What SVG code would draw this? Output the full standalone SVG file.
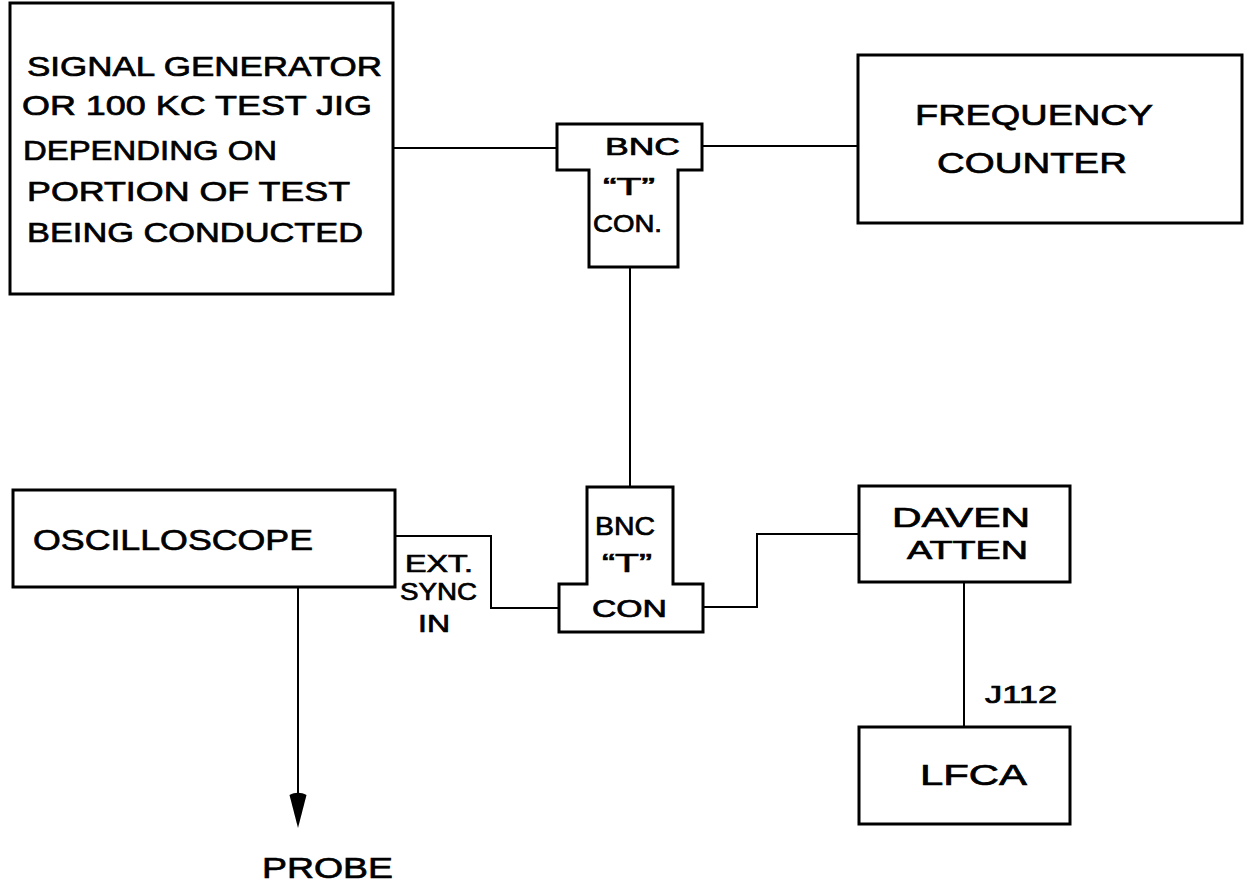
<svg xmlns="http://www.w3.org/2000/svg" width="1249" height="883" viewBox="0 0 1249 883">
<style>
.box{fill:none;stroke:#000;stroke-width:3;stroke-linejoin:miter}
.wire{fill:none;stroke:#000;stroke-width:2}
text{font-family:"Liberation Sans",Arial,sans-serif;fill:#000;stroke:#000;stroke-width:0.7;lengthAdjust:spacingAndGlyphs}
.t28{font-size:28px}
.t30{font-size:30px}
.t24{font-size:24px}
.t26{font-size:26px}
</style>
<defs>
<marker id="arrow" markerUnits="userSpaceOnUse" viewBox="-14 -10 40 20" refX="0" refY="0" markerWidth="40" markerHeight="20" orient="auto">
<path d="M-10,-8.5 C-13,-3 -13,3 -10,8.5 L23,0 Z" fill="#000"/>
</marker>
</defs>
<rect width="1249" height="883" fill="#fff"/>
<g id="connectors">
<path class="wire" d="M393,148 H557"/>
<path class="wire" d="M702,146 H858"/>
<path class="wire" d="M630,267 V487"/>
<path class="wire" d="M395,536 H491 V608 H559"/>
<path class="wire" d="M703,607 H757 V534 H859"/>
<path class="wire" d="M964,582 V727"/>
<path class="wire" d="M298,587 V805" marker-end="url(#arrow)"/>
</g>
<g id="signal-generator">
<rect class="box" x="10" y="3" width="383" height="291"/>
<text class="t28" x="27" y="76" textLength="355" lengthAdjust="spacingAndGlyphs">SIGNAL GENERATOR</text>
<text class="t28" x="22" y="115" textLength="350" lengthAdjust="spacingAndGlyphs">OR 100 KC TEST JIG</text>
<text class="t28" x="23" y="160" textLength="254" lengthAdjust="spacingAndGlyphs">DEPENDING ON</text>
<text class="t28" x="27" y="201" textLength="323" lengthAdjust="spacingAndGlyphs">PORTION OF TEST</text>
<text class="t28" x="27" y="242" textLength="336" lengthAdjust="spacingAndGlyphs">BEING CONDUCTED</text>
</g>
<g id="bnc-t-top">
<path class="box" d="M557,124 H702 V170 H678 V267 H589 V170 H557 Z"/>
<text class="t24" x="605" y="155" textLength="75" lengthAdjust="spacingAndGlyphs">BNC</text>
<text class="t24" x="603" y="195" textLength="52" lengthAdjust="spacingAndGlyphs">“T”</text>
<text class="t24" x="593" y="232" textLength="69" lengthAdjust="spacingAndGlyphs">CON.</text>
</g>
<g id="frequency-counter">
<rect class="box" x="858" y="55" width="384" height="168"/>
<text class="t30" x="915" y="125" textLength="238" lengthAdjust="spacingAndGlyphs">FREQUENCY</text>
<text class="t30" x="937" y="173" textLength="190" lengthAdjust="spacingAndGlyphs">COUNTER</text>
</g>
<g id="oscilloscope">
<rect class="box" x="13" y="490" width="382" height="97"/>
<text class="t30" x="33" y="550" textLength="280" lengthAdjust="spacingAndGlyphs">OSCILLOSCOPE</text>
</g>
<g id="ext-sync-label">
<text class="t24" x="405" y="572" textLength="68" lengthAdjust="spacingAndGlyphs">EXT.</text>
<text class="t24" x="400" y="600" textLength="77" lengthAdjust="spacingAndGlyphs">SYNC</text>
<text class="t24" x="418" y="632" textLength="32" lengthAdjust="spacingAndGlyphs">IN</text>
</g>
<g id="bnc-t-bottom">
<path class="box" d="M587,487 H673 V584 H703 V632 H559 V584 H587 Z"/>
<text class="t26" x="595" y="535" textLength="60" lengthAdjust="spacingAndGlyphs">BNC</text>
<text class="t26" x="602" y="572" textLength="50" lengthAdjust="spacingAndGlyphs">“T”</text>
<text class="t24" x="592" y="617" textLength="75" lengthAdjust="spacingAndGlyphs">CON</text>
</g>
<g id="daven-atten">
<rect class="box" x="859" y="486" width="211" height="96"/>
<text class="t28" x="892" y="527" textLength="138" lengthAdjust="spacingAndGlyphs">DAVEN</text>
<text class="t26" x="907" y="559" textLength="121" lengthAdjust="spacingAndGlyphs">ATTEN</text>
</g>
<g id="j112-label">
<text class="t24" x="985" y="703" textLength="72" lengthAdjust="spacingAndGlyphs">J112</text>
</g>
<g id="lfca">
<rect class="box" x="859" y="727" width="211" height="97"/>
<text class="t30" x="920" y="785" textLength="107" lengthAdjust="spacingAndGlyphs">LFCA</text>
</g>
<g id="probe-label">
<text class="t30" x="262" y="878" textLength="131" lengthAdjust="spacingAndGlyphs">PROBE</text>
</g>
</svg>
